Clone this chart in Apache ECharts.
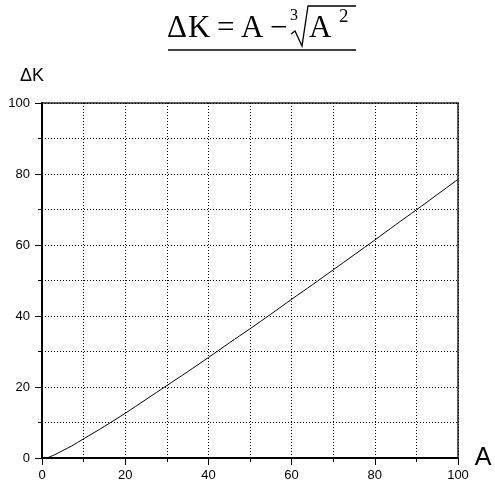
<!DOCTYPE html>
<html>
<head>
<meta charset="utf-8">
<script src="https://cdn.jsdelivr.net/npm/echarts@6/dist/echarts.min.js"></script>
<style>
  html, body { margin: 0; padding: 0; background: #fff; }
  #chart { width: 495px; height: 483px; }
</style>
</head>
<body>
<div id="chart"></div>
<script>
// Sampled points of the curve ΔK(A)
const aValues = [0, 1, 2, 3, 5, 7, 10, 15, 20, 25, 30, 35, 40, 45, 50, 55, 60, 65, 70, 75, 80, 85, 90, 95, 100];
const dkValues = [0, 0, 0.4, 0.9, 2.1, 3.3, 5.4, 8.9, 12.6, 16.5, 20.4, 24.3, 28.3, 32.4, 36.4, 40.5, 44.7, 48.8, 53.0, 57.2, 61.4, 65.7, 69.9, 74.2, 78.5];
const xTicks = [0, 20, 40, 60, 80, 100];
const yTicks = [0, 20, 40, 60, 80, 100];

const chart = echarts.init(document.getElementById('chart'), null, { renderer: 'canvas' });

const serif = 'Liberation Serif, Times New Roman, serif';
const sans = 'Liberation Sans, Arial, sans-serif';

const dotted = { color: '#000', width: 1, type: [1, 2] };

function axisCommon(ticks) {
  return {
    type: 'value',
    min: ticks[0],
    max: ticks[ticks.length - 1],
    interval: ticks[1] - ticks[0],
    axisLine: { show: true, lineStyle: { color: '#000', width: 2 } },
    axisTick: { show: true, length: 7, lineStyle: { color: '#000', width: 1 } },
    minorTick: { show: true, splitNumber: 2, length: 4, lineStyle: { color: '#000', width: 1 } },
    splitLine: { show: true, lineStyle: dotted },
    minorSplitLine: { show: true, lineStyle: dotted },
    axisLabel: { color: '#000', fontFamily: sans, fontSize: 13 }
  };
}

const xAxis = Object.assign(axisCommon(xTicks), {
  name: 'A',
  nameLocation: 'end',
  nameGap: 11,
  nameTextStyle: { color: '#000', fontFamily: sans, fontSize: 25, verticalAlign: 'top', padding: [-12, 0, 0, 0] }
});
xAxis.axisLabel.margin = 11;

const yAxis = Object.assign(axisCommon(yTicks), {
  name: 'ΔK',
  nameLocation: 'end',
  nameGap: 18,
  nameTextStyle: { color: '#000', fontFamily: sans, fontSize: 18, align: 'center', padding: [0, 0, 0, -20] }
});
yAxis.axisLabel.margin = 12;

// Formula heading, set piece by piece with a drawn radical sign
const big = '31px ' + serif;
const formulaParts = [
  { text: 'Δ', left: 167 },
  { text: 'K', left: 188 },
  { text: '=', left: 217 },
  { text: 'A', left: 241 },
  { text: '−', left: 270 }
];

chart.setOption({
  animation: false,
  backgroundColor: '#fff',
  grid: { left: 42, top: 103, width: 416, height: 355, show: true, borderColor: '#222', borderWidth: 1.5, backgroundColor: 'transparent' },
  xAxis: xAxis,
  yAxis: yAxis,
  series: [{
    type: 'line',
    data: aValues.map((a, i) => [a, dkValues[i]]),
    smooth: 0.3,
    showSymbol: false,
    lineStyle: { color: '#000', width: 1 },
    z: 5
  }],
  graphic: formulaParts.map(p => ({ type: 'text', left: p.left, top: 13, style: { text: p.text, font: big, fill: '#000' } })).concat([
    { type: 'text', left: 290, top: 8, style: { text: '3', font: '16px ' + serif, fill: '#000' } },
    { type: 'polyline', shape: { points: [[291, 34], [295, 31], [302, 46], [308, 6], [356, 6]] }, style: { stroke: '#000', lineWidth: 1.3, fill: null } },
    { type: 'text', left: 309, top: 13, style: { text: 'A', font: big, fill: '#000' } },
    { type: 'text', left: 339, top: 8, style: { text: '2', font: '19px ' + serif, fill: '#000' } },
    { type: 'line', shape: { x1: 168, y1: 50, x2: 356, y2: 50 }, style: { stroke: '#000', lineWidth: 1.5 } }
  ])
});
</script>
</body>
</html>
